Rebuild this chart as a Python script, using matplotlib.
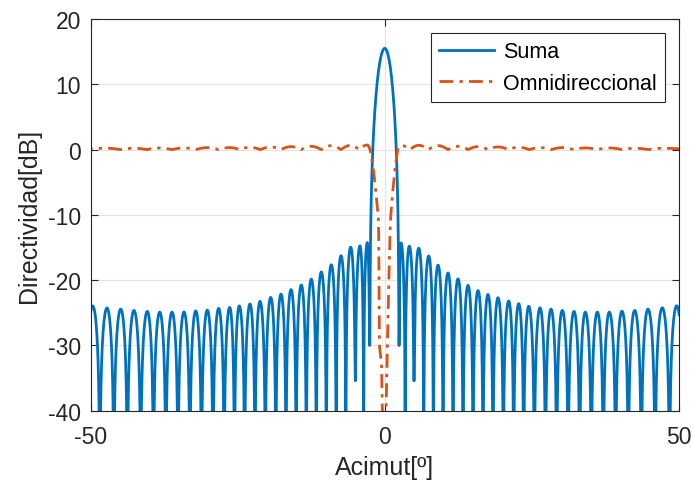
import numpy as np
import matplotlib.pyplot as plt

# Sum pattern: sidelobe peaks (azimuth in deg, level in dB)
left_peak_deg = [-49.63, -47.20, -44.87, -42.61, -40.35, -38.24, -36.15, -34.11, -32.12,
                 -30.15, -28.22, -26.35, -24.72, -22.90, -21.20, -19.38, -17.63, -15.93,
                 -14.18, -12.48, -10.78, -9.08, -7.43, -5.79, -4.21, -2.97]
left_peak_db = [-23.95, -24.26, -24.44, -24.64, -24.79, -24.90, -24.90, -24.87, -24.72,
                -24.59, -24.33, -24.18, -23.95, -23.65, -23.25, -22.65, -22.15, -21.45,
                -20.75, -19.85, -18.75, -17.65, -16.25, -14.95, -14.75, -14.25]
right_peak_deg = [2.76, 4.17, 5.77, 7.47, 9.05, 10.75, 12.45, 14.15, 15.85, 17.54, 19.24,
                  21.06, 22.76, 24.46, 26.38, 28.25, 30.17, 32.16, 34.08, 36.12, 38.16,
                  40.31, 42.47, 44.73, 47.16, 49.61]
right_peak_db = [-14.30, -14.80, -15.10, -16.30, -17.70, -18.90, -19.80, -20.80, -21.60,
                 -22.20, -22.70, -23.20, -23.60, -24.00, -24.24, -24.44, -24.64, -24.79,
                 -24.90, -24.90, -24.90, -24.75, -24.64, -24.44, -24.24, -23.93]
main_peak_db = 15.5
main_null_deg = [-2.55, 2.42]
# nulls that stop above the bottom of the plot
shallow_null_deg = [-5.0, -2.55, 2.42, 4.97]
shallow_null_db = [-35.4, -30.0, -30.0, -35.4]

# Omnidirectional pattern: ripple peaks and the notch around broadside
omni_peak_deg = [-47.20, -42.61, -38.24, -34.11, -30.15, -26.35, -22.90, -19.38, -15.93,
                 -12.48, -9.08, -5.79, -2.97,
                 2.76, 5.77, 9.05, 12.45, 15.85, 19.24, 22.76, 26.38, 30.17, 34.08, 38.16,
                 42.47, 47.16]
omni_peak_db = [0.20, 0.20, 0.25, 0.25, 0.30, 0.30, 0.35, 0.40, 0.45, 0.50, 0.60, 0.65, 0.70,
                0.65, 0.65, 0.60, 0.50, 0.45, 0.40, 0.35, 0.30, 0.30, 0.25, 0.25, 0.20, 0.20]
omni_notch_deg = [-2.50, -2.20, -1.80, -1.40, -1.05, -0.90, -0.55, -0.30,
                  0.10, 0.45, 0.75, 0.95, 1.35, 1.80, 2.20]
omni_notch_db = [0.0, -1.5, -4.0, -7.5, -11.0, -30.0, -33.0, -45.0,
                 -45.0, -30.0, -18.0, -11.0, -6.5, -2.5, 0.0]


def lobe(a, p, b, level, floor_a, floor_b, n=50):
    th = np.linspace(a, b, n)
    t = np.where(th < p, 0.5 * (th - a) / (p - a), 0.5 + 0.5 * (th - p) / (b - p))
    y = level + 20 * np.log10(np.maximum(np.sin(np.pi * t), 1e-6))
    return th, np.maximum(y, np.where(th < p, floor_a, floor_b))


def null_depth(x):
    for s, d in zip(shallow_null_deg, shallow_null_db):
        if abs(s - x) < 0.3:
            return d
    return -80.0


def sum_pattern():
    xs, ys = [], []
    # left side, outermost first
    pk = np.array(left_peak_deg)
    nulls = np.r_[2 * pk[0] - (pk[0] + pk[1]) / 2, (pk[:-1] + pk[1:]) / 2, main_null_deg[0]]
    for i, p in enumerate(pk):
        th, y = lobe(nulls[i], p, nulls[i + 1], left_peak_db[i],
                     null_depth(nulls[i]), null_depth(nulls[i + 1]))
        xs.append(th); ys.append(y)
    # main lobe
    th = np.linspace(main_null_deg[0], main_null_deg[1], 200)
    th0 = np.where(th < 0, -main_null_deg[0], main_null_deg[1])
    y = main_peak_db + 20 * np.log10(np.maximum(np.cos(np.pi / 2 * th / th0), 1e-6)) - 1.3 * th ** 2
    xs.append(th); ys.append(np.maximum(y, -30.0))
    # right side
    pk = np.array(right_peak_deg)
    nulls = np.r_[main_null_deg[1], (pk[:-1] + pk[1:]) / 2, 2 * pk[-1] - (pk[-1] + pk[-2]) / 2]
    for i, p in enumerate(pk):
        th, y = lobe(nulls[i], p, nulls[i + 1], right_peak_db[i],
                     null_depth(nulls[i]), null_depth(nulls[i + 1]))
        xs.append(th); ys.append(y)
    return np.concatenate(xs), np.concatenate(ys)


def omni_pattern():
    xs, ys = [], []
    pk = np.array(omni_peak_deg)
    lv = np.array(omni_peak_db)
    for side in (pk < 0, pk > 0):
        p, l = pk[side], lv[side]
        if p[0] < 0:
            edges = np.r_[-52.0, (p[:-1] + p[1:]) / 2, omni_notch_deg[0]]
        else:
            edges = np.r_[omni_notch_deg[-1], (p[:-1] + p[1:]) / 2, 52.0]
        for i in range(len(p)):
            th = np.linspace(edges[i], edges[i + 1], 30)
            t = np.where(th < p[i], 0.5 * (th - edges[i]) / (p[i] - edges[i]),
                         0.5 + 0.5 * (th - p[i]) / (edges[i + 1] - p[i]))
            xs.append(th); ys.append(l[i] * np.sin(np.pi * t))
        if p[0] < 0:
            xs.append(np.array(omni_notch_deg)); ys.append(np.array(omni_notch_db))
    return np.concatenate(xs), np.concatenate(ys)


plt.rcParams['font.family'] = ['Liberation Sans', 'DejaVu Sans']
plt.rcParams['axes.unicode_minus'] = False

fig = plt.figure(figsize=(6.93, 4.85), dpi=100)
ax = fig.add_axes([0.1306, 0.1511, 0.8492, 0.8077])

x1, y1 = sum_pattern()
x2, y2 = omni_pattern()
ax.plot(x1, y1, color="#0072BD", lw=2.0, label="Suma")
ax.plot(x2, y2, color="#D95319", lw=2.0, ls=(0, (5, 2.2, 1.2, 2.2)), label="Omnidireccional")

ax.set_xlim(-50, 50)
ax.set_ylim(-40, 20)
ax.set_xticks([-50, 0, 50])
ax.set_yticks(np.arange(-40, 21, 10))
ax.grid(True, color="#e3e3e3", lw=0.8)
ax.set_axisbelow(True)
ax.tick_params(direction="in", top=True, right=True, labelsize=16.5,
               colors="#262626", length=5, width=0.8)
ax.tick_params(axis="x", pad=10)
ax.tick_params(axis="y", pad=7)
for s in ax.spines.values():
    s.set_color("#262626")
    s.set_linewidth(0.8)
ax.set_xlabel("Acimut[º]", fontsize=18, color="#262626", labelpad=5)
ax.set_ylabel("Directividad[dB]", fontsize=18, color="#262626", labelpad=5)

leg = ax.legend(loc="upper right", bbox_to_anchor=(0.976, 0.964), fontsize=15.5,
                fancybox=False, framealpha=1, edgecolor="#262626", handlelength=2.55,
                handletextpad=0.4, labelspacing=0.48, borderaxespad=0, borderpad=0.38)
leg.get_frame().set_linewidth(0.8)

fig.savefig("out.png", dpi=100)
